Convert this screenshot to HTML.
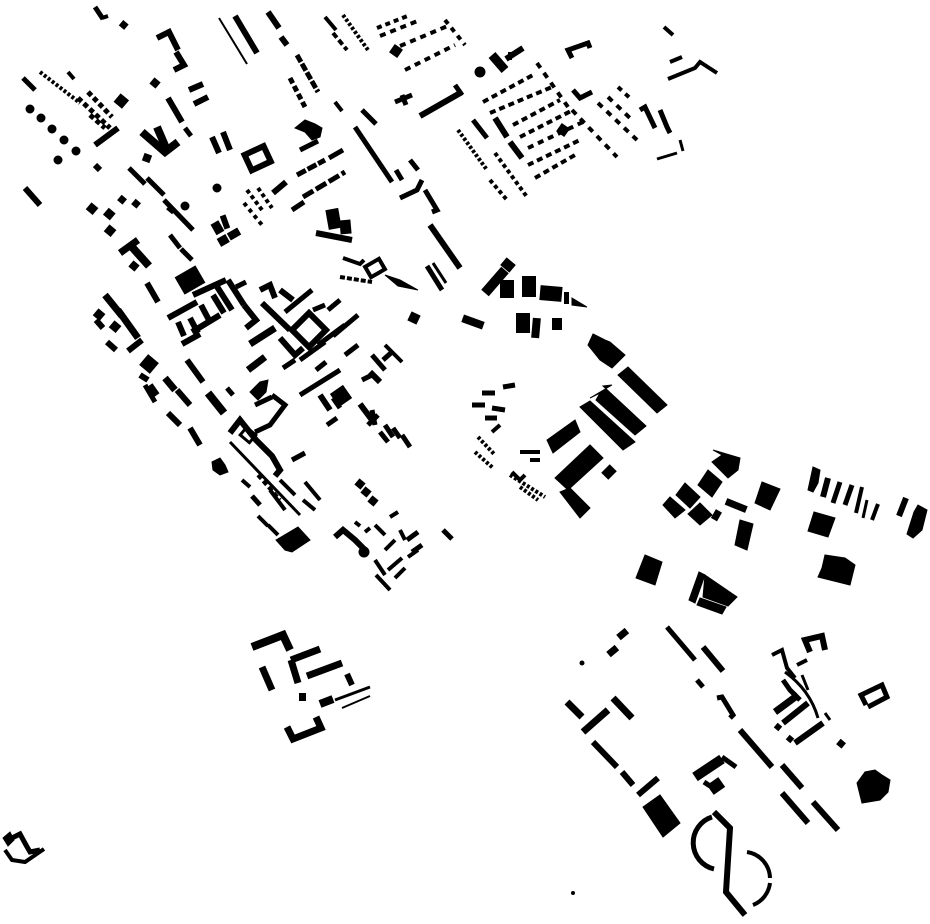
<!DOCTYPE html>
<html><head><meta charset="utf-8"><style>html,body{margin:0;padding:0;background:#fff}svg{display:block}</style></head>
<body>
<svg width="930" height="924" viewBox="0 0 930 924" xmlns="http://www.w3.org/2000/svg">
<g stroke="#000" fill="#000" stroke-linecap="butt">
<!-- top-left -->
<line x1="95" y1="7" x2="103" y2="19" stroke-width="5"/><line x1="102" y1="18" x2="108" y2="16" stroke-width="4"/>
<rect x="120" y="21" width="7" height="7" transform="rotate(40 123 25)" stroke="none"/>
<polyline points="157,38 169,32 178,50" fill="none" stroke-width="6"/>
<polyline points="176,52 184,65 174,70" fill="none" stroke-width="6"/>
<line x1="219" y1="18" x2="247" y2="64" stroke-width="2"/>
<line x1="235" y1="16" x2="257" y2="53" stroke-width="6"/>
<line x1="268" y1="12" x2="279" y2="28" stroke-width="6"/>
<line x1="281" y1="37" x2="287" y2="45" stroke-width="6"/>
<line x1="325" y1="17" x2="336" y2="30" stroke-width="4"/>
<line x1="333" y1="33" x2="347" y2="50" stroke-width="4" stroke-dasharray="6,3"/>
<line x1="343" y1="15" x2="368" y2="50" stroke-width="4" stroke-dasharray="3,2"/>
<line x1="377" y1="28" x2="410" y2="15" stroke-width="4" stroke-dasharray="5,4"/>
<line x1="380" y1="36" x2="420" y2="20" stroke-width="4" stroke-dasharray="6,5"/>
<line x1="400" y1="46" x2="450" y2="25" stroke-width="4" stroke-dasharray="6,5"/>
<line x1="405" y1="70" x2="455" y2="45" stroke-width="4" stroke-dasharray="6,5"/>
<line x1="445" y1="20" x2="465" y2="45" stroke-width="4" stroke-dasharray="5,5"/>
<rect x="391" y="46" width="10" height="10" transform="rotate(35 396 51)" stroke="none"/>
<!-- left dotted rows -->
<line x1="23" y1="78" x2="35" y2="90" stroke-width="5"/>
<line x1="40" y1="72" x2="80" y2="103" stroke-width="4" stroke-dasharray="3,2"/>
<line x1="68" y1="72" x2="74" y2="79" stroke-width="4"/>
<circle cx="30" cy="109" r="4"/><circle cx="41" cy="118" r="4"/><circle cx="52" cy="129" r="4"/><circle cx="64" cy="140" r="4"/><circle cx="76" cy="151" r="4"/>
<line x1="78" y1="98" x2="110" y2="128" stroke-width="5" stroke-dasharray="5,3"/>
<line x1="88" y1="92" x2="112" y2="117" stroke-width="5" stroke-dasharray="5,3"/>
<line x1="90" y1="115" x2="105" y2="128" stroke-width="5" stroke-dasharray="5,3"/>
<line x1="95" y1="145" x2="118" y2="128" stroke-width="6"/>
<rect x="116" y="96" width="11" height="11" transform="rotate(40 122 101)" stroke="none"/>
<circle cx="58" cy="160" r="4"/>
<line x1="25" y1="188" x2="40" y2="205" stroke-width="6"/>
<line x1="95" y1="165" x2="100" y2="170" stroke-width="6"/>
<rect x="151" y="79" width="8" height="8" transform="rotate(40 155 83)" stroke="none"/>
<line x1="168" y1="98" x2="182" y2="122" stroke-width="6"/>
<line x1="189" y1="90" x2="203" y2="84" stroke-width="6"/>
<line x1="194" y1="104" x2="208" y2="97" stroke-width="6"/>
<line x1="185" y1="128" x2="191" y2="136" stroke-width="5"/>
<polyline points="142,132 165,152 178,142" fill="none" stroke-width="8"/>
<line x1="157" y1="127" x2="166" y2="148" stroke-width="8"/>
<line x1="212" y1="137" x2="219" y2="153" stroke-width="6"/>
<line x1="223" y1="132" x2="230" y2="150" stroke-width="6"/>
<rect x="247" y="150" width="21" height="17" transform="rotate(-25 257 158)" fill="none" stroke-width="6"/>
<rect x="143" y="154" width="8" height="8" stroke="none" transform="rotate(20 147 158)"/>
<line x1="129" y1="168" x2="145" y2="184" stroke-width="5"/>
<line x1="147" y1="178" x2="164" y2="195" stroke-width="5"/>
<line x1="164" y1="200" x2="193" y2="230" stroke-width="5"/>
<rect x="88" y="204" width="9" height="9" transform="rotate(40 92 208)" stroke="none"/>
<rect x="105" y="210" width="9" height="9" transform="rotate(40 110 214)" stroke="none"/>
<rect x="119" y="196" width="7" height="7" transform="rotate(40 122 199)" stroke="none"/>
<rect x="133" y="200" width="7" height="7" transform="rotate(40 136 203)" stroke="none"/>
<rect x="106" y="226" width="9" height="9" transform="rotate(40 110 230)" stroke="none"/>
<line x1="120" y1="253" x2="138" y2="240" stroke-width="7"/>
<line x1="132" y1="247" x2="149" y2="266" stroke-width="8"/>
<rect x="130" y="262" width="8" height="8" transform="rotate(40 134 266)" stroke="none"/>
<line x1="170" y1="235" x2="180" y2="248" stroke-width="5"/>
<line x1="181" y1="249" x2="192" y2="260" stroke-width="5"/>
<line x1="168" y1="207" x2="174" y2="212" stroke-width="6"/>
<circle cx="185" cy="206" r="4"/><circle cx="217" cy="188" r="4"/>
<rect x="213" y="222" width="9" height="12" transform="rotate(-30 217 228)" stroke="none"/>
<rect x="222" y="215" width="6" height="14" transform="rotate(-20 225 222)" stroke="none"/>
<rect x="228" y="230" width="12" height="8" transform="rotate(-30 234 234)" stroke="none"/>
<rect x="218" y="236" width="10" height="9" transform="rotate(-30 223 240)" stroke="none"/>
<line x1="247" y1="190" x2="262" y2="210" stroke-width="4" stroke-dasharray="4,3"/>
<line x1="258" y1="188" x2="272" y2="208" stroke-width="4" stroke-dasharray="4,3"/>
<line x1="244" y1="203" x2="262" y2="225" stroke-width="4" stroke-dasharray="4,4"/>
<line x1="273" y1="193" x2="286" y2="182" stroke-width="6"/>
<line x1="292" y1="210" x2="304" y2="202" stroke-width="5"/>
<line x1="297" y1="175" x2="325" y2="160" stroke-width="5" stroke-dasharray="10,2"/>
<line x1="303" y1="197" x2="345" y2="172" stroke-width="5" stroke-dasharray="12,3"/>
<line x1="329" y1="158" x2="343" y2="150" stroke-width="5"/>
<line x1="300" y1="150" x2="318" y2="141" stroke-width="5"/>
<line x1="297" y1="55" x2="318" y2="92" stroke-width="5" stroke-dasharray="8,2"/>
<line x1="290" y1="78" x2="305" y2="107" stroke-width="5" stroke-dasharray="6,3"/>
<polygon points="295,128 305,120 315,124 322,128 320,137 312,140 305,132"/>
<line x1="335" y1="102" x2="342" y2="111" stroke-width="4"/>
<line x1="355" y1="127" x2="392" y2="182" stroke-width="5"/>
<line x1="362" y1="110" x2="376" y2="124" stroke-width="5"/>
<line x1="395" y1="102" x2="412" y2="95" stroke-width="5"/>
<line x1="402" y1="95" x2="406" y2="105" stroke-width="5"/>
<line x1="420" y1="116" x2="462" y2="92" stroke-width="6"/>
<line x1="455" y1="85" x2="462" y2="95" stroke-width="5"/>
<line x1="410" y1="160" x2="418" y2="170" stroke-width="5"/>
<line x1="396" y1="170" x2="402" y2="180" stroke-width="5"/>
<polyline points="400,198 417,190 422,180" fill="none" stroke-width="5"/>
<polyline points="425,190 437,210 432,212" fill="none" stroke-width="5"/>
<!-- center top cluster -->
<rect x="327" y="209" width="13" height="20" transform="rotate(-10 333 219)" stroke="none"/>
<rect x="340" y="220" width="11" height="14" transform="rotate(-5 345 227)" stroke="none"/>
<line x1="316" y1="233" x2="352" y2="240" stroke-width="6"/>
<line x1="430" y1="225" x2="460" y2="268" stroke-width="6"/>
<polyline points="343,258 360,264 364,260" fill="none" stroke-width="4"/>
<rect x="367" y="262" width="16" height="12" transform="rotate(-30 375 268)" fill="none" stroke-width="4"/>
<line x1="340" y1="277" x2="372" y2="282" stroke-width="4" stroke-dasharray="5,2"/>
<polygon points="385,275 400,280 418,290 398,286"/>
<line x1="427" y1="266" x2="442" y2="290" stroke-width="5"/>
<line x1="433" y1="263" x2="446" y2="283" stroke-width="3"/>
<!-- left-middle dense cluster -->
<rect x="178" y="270" width="24" height="20" transform="rotate(-30 190 280)" stroke="none"/>
<line x1="147" y1="283" x2="158" y2="302" stroke-width="6"/>
<line x1="105" y1="295" x2="122" y2="316" stroke-width="7"/>
<rect x="95" y="310" width="9" height="9" transform="rotate(40 99 314)" stroke="none"/>
<rect x="111" y="322" width="9" height="9" transform="rotate(40 115 326)" stroke="none"/>
<line x1="118" y1="310" x2="138" y2="338" stroke-width="7"/>
<line x1="128" y1="351" x2="142" y2="340" stroke-width="6"/>
<line x1="96" y1="320" x2="103" y2="328" stroke-width="6"/>
<line x1="107" y1="342" x2="116" y2="350" stroke-width="6"/>
<line x1="168" y1="318" x2="197" y2="302" stroke-width="6"/>
<line x1="178" y1="322" x2="184" y2="336" stroke-width="6"/>
<line x1="190" y1="318" x2="198" y2="333" stroke-width="6"/>
<line x1="201" y1="305" x2="210" y2="322" stroke-width="6"/>
<line x1="213" y1="295" x2="224" y2="313" stroke-width="6"/>
<line x1="192" y1="332" x2="220" y2="315" stroke-width="6"/>
<line x1="182" y1="344" x2="200" y2="334" stroke-width="6"/>
<line x1="193" y1="295" x2="226" y2="280" stroke-width="6"/>
<line x1="216" y1="285" x2="232" y2="310" stroke-width="6"/>
<line x1="228" y1="280" x2="244" y2="305" stroke-width="6"/>
<line x1="236" y1="287" x2="246" y2="282" stroke-width="5"/>
<polyline points="244,305 256,320 246,328" fill="none" stroke-width="6"/>
<polyline points="260,290 270,285 275,298" fill="none" stroke-width="6"/>
<line x1="262" y1="303" x2="290" y2="330" stroke-width="6"/>
<line x1="280" y1="290" x2="293" y2="300" stroke-width="6"/>
<line x1="250" y1="344" x2="275" y2="328" stroke-width="7"/>
<line x1="248" y1="370" x2="265" y2="357" stroke-width="7"/>
<polyline points="280,338 295,355 303,348" fill="none" stroke-width="6"/>
<rect x="297" y="318" width="24" height="24" transform="rotate(-45 309 330)" fill="none" stroke-width="6"/>
<line x1="285" y1="312" x2="312" y2="290" stroke-width="5"/>
<line x1="313" y1="310" x2="325" y2="305" stroke-width="5"/>
<line x1="328" y1="310" x2="340" y2="300" stroke-width="5"/>
<line x1="333" y1="336" x2="358" y2="315" stroke-width="5"/>
<line x1="318" y1="345" x2="345" y2="325" stroke-width="5"/>
<line x1="300" y1="360" x2="325" y2="342" stroke-width="5"/>
<line x1="283" y1="368" x2="295" y2="360" stroke-width="5"/>
<rect x="409" y="313" width="10" height="10" transform="rotate(25 414 318)" stroke="none"/>
<rect x="142" y="357" width="14" height="14" transform="rotate(40 149 364)" stroke="none"/>
<line x1="140" y1="375" x2="148" y2="380" stroke-width="6"/>
<line x1="150" y1="385" x2="157" y2="395" stroke-width="6"/>
<line x1="165" y1="378" x2="175" y2="390" stroke-width="7"/>
<line x1="177" y1="390" x2="190" y2="405" stroke-width="6"/>
<line x1="187" y1="360" x2="203" y2="382" stroke-width="6"/>
<line x1="168" y1="413" x2="180" y2="425" stroke-width="6"/>
<line x1="190" y1="428" x2="200" y2="445" stroke-width="6"/>
<line x1="145" y1="385" x2="155" y2="402" stroke-width="5"/>
<line x1="208" y1="393" x2="224" y2="413" stroke-width="8"/>
<line x1="227" y1="388" x2="233" y2="395" stroke-width="5"/>
<polygon points="250,392 260,382 268,380 266,392 258,400"/>
<line x1="255" y1="405" x2="272" y2="397" stroke-width="5"/>
<polyline points="272,395 285,405 270,425 255,432" fill="none" stroke-width="5"/>
<polyline points="230,433 240,420 256,440 272,456 280,470 275,476" fill="none" stroke-width="6"/>
<rect x="242" y="430" width="12" height="10" transform="rotate(40 248 435)" fill="none" stroke-width="3"/>
<line x1="230" y1="442" x2="300" y2="515" stroke-width="3"/>
<line x1="292" y1="460" x2="305" y2="453" stroke-width="5"/>
<polygon points="212,462 220,458 225,465 228,472 220,475 213,470"/>
<line x1="242" y1="480" x2="250" y2="487" stroke-width="4"/>
<line x1="252" y1="496" x2="260" y2="505" stroke-width="5"/>
<line x1="258" y1="475" x2="280" y2="500" stroke-width="4" stroke-dasharray="5,3"/>
<line x1="270" y1="490" x2="285" y2="510" stroke-width="4"/>
<line x1="280" y1="480" x2="295" y2="495" stroke-width="4"/>
<line x1="305" y1="482" x2="320" y2="500" stroke-width="4"/>
<line x1="303" y1="500" x2="315" y2="510" stroke-width="4"/>
<line x1="258" y1="516" x2="268" y2="526" stroke-width="4"/>
<line x1="268" y1="525" x2="278" y2="535" stroke-width="4"/>
<polygon points="276,540 298,527 310,540 292,552 285,550"/>
<line x1="300" y1="395" x2="340" y2="370" stroke-width="5"/>
<rect x="333" y="388" width="16" height="16" transform="rotate(-35 341 396)" stroke="none"/>
<line x1="320" y1="395" x2="330" y2="410" stroke-width="6"/>
<line x1="327" y1="425" x2="337" y2="418" stroke-width="5"/>
<line x1="333" y1="398" x2="340" y2="408" stroke-width="5"/>
<line x1="316" y1="370" x2="326" y2="362" stroke-width="5"/>
<line x1="372" y1="355" x2="385" y2="370" stroke-width="5"/>
<line x1="383" y1="360" x2="392" y2="352" stroke-width="5"/>
<line x1="385" y1="345" x2="402" y2="362" stroke-width="4"/>
<line x1="370" y1="372" x2="380" y2="382" stroke-width="6"/>
<line x1="362" y1="380" x2="372" y2="375" stroke-width="5"/>
<line x1="360" y1="404" x2="372" y2="420" stroke-width="6"/>
<line x1="368" y1="425" x2="378" y2="415" stroke-width="5"/>
<line x1="372" y1="410" x2="375" y2="425" stroke-width="5"/>
<line x1="385" y1="425" x2="393" y2="437" stroke-width="5"/>
<line x1="393" y1="428" x2="400" y2="438" stroke-width="5"/>
<line x1="402" y1="435" x2="410" y2="447" stroke-width="5"/>
<line x1="380" y1="432" x2="388" y2="442" stroke-width="5"/>
<line x1="345" y1="355" x2="358" y2="345" stroke-width="5"/>
<!-- zigzag squares + lower cluster -->
<rect x="356" y="480" width="8" height="8" transform="rotate(40 360 484)" stroke="none"/>
<rect x="362" y="488" width="8" height="8" transform="rotate(40 366 492)" stroke="none"/>
<rect x="369" y="497" width="8" height="8" transform="rotate(40 373 501)" stroke="none"/>
<polyline points="335,537 343,530 355,540 365,550" fill="none" stroke-width="6"/>
<circle cx="364" cy="552" r="5"/>
<line x1="355" y1="522" x2="360" y2="526" stroke-width="4"/>
<line x1="365" y1="532" x2="370" y2="528" stroke-width="4"/>
<line x1="375" y1="525" x2="385" y2="535" stroke-width="4"/>
<line x1="390" y1="517" x2="398" y2="512" stroke-width="4"/>
<line x1="400" y1="530" x2="405" y2="540" stroke-width="4"/>
<line x1="407" y1="540" x2="418" y2="532" stroke-width="5"/>
<line x1="412" y1="552" x2="422" y2="545" stroke-width="5"/>
<line x1="385" y1="550" x2="395" y2="540" stroke-width="4"/>
<line x1="375" y1="560" x2="385" y2="575" stroke-width="4"/>
<line x1="376" y1="575" x2="390" y2="590" stroke-width="4"/>
<line x1="388" y1="570" x2="402" y2="558" stroke-width="4"/>
<line x1="395" y1="578" x2="405" y2="568" stroke-width="4"/>
<line x1="443" y1="530" x2="452" y2="539" stroke-width="5"/>
<line x1="408" y1="557" x2="418" y2="550" stroke-width="4"/>
<!-- top right grid -->
<line x1="492" y1="55" x2="505" y2="70" stroke-width="9"/>
<line x1="506" y1="59" x2="523" y2="48" stroke-width="6"/>
<line x1="510" y1="60" x2="510" y2="52" stroke-width="4"/>
<circle cx="480" cy="72" r="5"/>
<polyline points="572,58 568,50 588,43 590,48" fill="none" stroke-width="5"/>
<line x1="483" y1="102" x2="533" y2="75" stroke-width="4" stroke-dasharray="6,4"/>
<line x1="490" y1="113" x2="552" y2="87" stroke-width="4" stroke-dasharray="6,4"/>
<line x1="513" y1="125" x2="560" y2="100" stroke-width="4" stroke-dasharray="6,4"/>
<line x1="520" y1="137" x2="573" y2="110" stroke-width="4" stroke-dasharray="6,4"/>
<line x1="528" y1="148" x2="583" y2="122" stroke-width="4" stroke-dasharray="6,5"/>
<line x1="528" y1="165" x2="580" y2="140" stroke-width="4" stroke-dasharray="6,4"/>
<line x1="535" y1="178" x2="575" y2="155" stroke-width="4" stroke-dasharray="6,4"/>
<line x1="537" y1="63" x2="568" y2="107" stroke-width="4" stroke-dasharray="6,6"/>
<line x1="572" y1="110" x2="617" y2="157" stroke-width="4" stroke-dasharray="6,6"/>
<line x1="598" y1="103" x2="637" y2="140" stroke-width="4" stroke-dasharray="6,6"/>
<line x1="608" y1="97" x2="632" y2="120" stroke-width="4" stroke-dasharray="6,6"/>
<line x1="618" y1="87" x2="632" y2="100" stroke-width="4" stroke-dasharray="5,5"/>
<rect x="558" y="125" width="10" height="10" transform="rotate(35 563 130)" stroke="none"/>
<polyline points="573,90 580,98 592,92" fill="none" stroke-width="5"/>
<line x1="473" y1="120" x2="487" y2="138" stroke-width="5"/>
<line x1="495" y1="118" x2="507" y2="137" stroke-width="6"/>
<line x1="510" y1="142" x2="522" y2="158" stroke-width="6"/>
<line x1="458" y1="130" x2="487" y2="170" stroke-width="4" stroke-dasharray="3,2"/>
<line x1="495" y1="153" x2="527" y2="197" stroke-width="4" stroke-dasharray="4,3"/>
<line x1="490" y1="180" x2="507" y2="200" stroke-width="4" stroke-dasharray="4,3"/>
<polyline points="640,110 645,107 655,128" fill="none" stroke-width="5"/>
<polyline points="660,110 667,127 670,133" fill="none" stroke-width="5"/>
<line x1="657" y1="159" x2="677" y2="153" stroke-width="3"/>
<line x1="680" y1="140" x2="683" y2="151" stroke-width="3"/>
<line x1="664" y1="27" x2="673" y2="35" stroke-width="4"/>
<line x1="670" y1="62" x2="682" y2="57" stroke-width="4"/>
<polyline points="668,79 695,68 700,62 717,73" fill="none" stroke-width="4"/>
<!-- mid cluster near 480-590, 260-340 -->
<line x1="485" y1="293" x2="505" y2="270" stroke-width="10"/>
<rect x="502" y="260" width="12" height="10" transform="rotate(40 508 265)" stroke="none"/>
<rect x="500" y="280" width="14" height="18" stroke="none"/>
<rect x="522" y="276" width="14" height="21" stroke="none"/>
<rect x="540" y="286" width="22" height="15" transform="rotate(5 551 293)" stroke="none"/>
<rect x="564" y="292" width="5" height="12" stroke="none"/>
<polygon points="572,298 587,307 572,305"/>
<rect x="462" y="318" width="22" height="8" transform="rotate(20 473 322)" stroke="none"/>
<rect x="516" y="313" width="14" height="20" stroke="none"/>
<rect x="532" y="318" width="8" height="20" transform="rotate(5 536 328)" stroke="none"/>
<rect x="552" y="318" width="10" height="12" stroke="none"/>
<polygon points="593,334 605,340 610,342 625,355 612,368 600,360 588,345"/>
<polygon points="628,367 667,405 657,413 618,375"/>
<polygon points="603,386 646,426 635,435 596,400 600,393 590,398 612,385"/>
<polygon points="590,401 635,442 623,450 580,407"/>
<polygon points="547,440 575,420 580,432 553,453"/>
<polygon points="555,478 590,445 603,458 568,490"/>
<polygon points="560,492 570,488 590,508 580,518"/>
<rect x="603" y="467" width="12" height="10" transform="rotate(-45 609 472)" stroke="none"/>
<!-- small dot cluster -->
<line x1="503" y1="387" x2="515" y2="385" stroke-width="5"/>
<line x1="482" y1="393" x2="495" y2="393" stroke-width="5"/>
<line x1="472" y1="405" x2="485" y2="405" stroke-width="5"/>
<line x1="492" y1="408" x2="505" y2="410" stroke-width="5"/>
<line x1="485" y1="418" x2="497" y2="418" stroke-width="5"/>
<line x1="492" y1="432" x2="500" y2="425" stroke-width="4"/>
<line x1="478" y1="437" x2="495" y2="455" stroke-width="4" stroke-dasharray="3,2"/>
<line x1="475" y1="452" x2="493" y2="468" stroke-width="4" stroke-dasharray="3,2"/>
<line x1="510" y1="475" x2="545" y2="497" stroke-width="4" stroke-dasharray="3,2"/>
<line x1="520" y1="487" x2="538" y2="500" stroke-width="4" stroke-dasharray="3,2"/>
<polyline points="512,472 520,480 525,475" fill="none" stroke-width="4"/>
<line x1="520" y1="452" x2="540" y2="452" stroke-width="4"/>
<line x1="530" y1="460" x2="540" y2="460" stroke-width="4"/>
<!-- right-middle clusters -->
<polygon points="713,450 740,458 738,470 728,478 712,462 722,455"/>
<polygon points="708,470 722,482 712,497 698,485"/>
<polygon points="685,483 700,497 690,508 676,495"/>
<polygon points="670,497 685,510 675,518 663,505"/>
<polygon points="700,503 712,515 700,525 688,514"/>
<rect x="725" y="502" width="22" height="7" transform="rotate(22 736 506)" stroke="none"/>
<rect x="713" y="510" width="7" height="10" transform="rotate(30 716 515)" stroke="none"/>
<polygon points="762,482 780,489 770,510 755,503"/>
<polygon points="740,520 753,524 747,550 735,545"/>
<polygon points="813,467 820,470 818,483 813,492 808,490"/>
<line x1="828" y1="478" x2="823" y2="497" stroke-width="6"/>
<line x1="840" y1="482" x2="833" y2="503" stroke-width="5"/>
<line x1="852" y1="485" x2="845" y2="505" stroke-width="5"/>
<line x1="862" y1="487" x2="856" y2="513" stroke-width="4"/>
<line x1="867" y1="500" x2="863" y2="518" stroke-width="3"/>
<line x1="878" y1="504" x2="872" y2="520" stroke-width="4"/>
<line x1="906" y1="498" x2="899" y2="516" stroke-width="6"/>
<polygon points="918,505 927,510 922,530 913,538 907,534 914,512"/>
<polygon points="814,512 835,518 828,537 808,531"/>
<polygon points="825,555 845,558 855,565 850,585 818,577 822,568"/>
<polygon points="645,555 662,562 655,585 636,578"/>
<polygon points="699,572 705,575 695,603 689,600"/>
<polygon points="705,575 737,597 728,606 703,597"/>
<polygon points="700,598 726,607 722,614 697,605"/>
<!-- bottom-left cluster -->
<polyline points="252,647 283,635 290,650" fill="none" stroke-width="8"/>
<line x1="262" y1="667" x2="272" y2="690" stroke-width="7"/>
<line x1="291" y1="660" x2="298" y2="683" stroke-width="7"/>
<line x1="291" y1="660" x2="320" y2="649" stroke-width="7"/>
<line x1="307" y1="676" x2="342" y2="663" stroke-width="7"/>
<line x1="347" y1="674" x2="352" y2="685" stroke-width="6"/>
<line x1="335" y1="700" x2="370" y2="687" stroke-width="3"/>
<line x1="342" y1="708" x2="370" y2="696" stroke-width="2"/>
<line x1="320" y1="704" x2="333" y2="699" stroke-width="8"/>
<rect x="299" y="693" width="7" height="8" stroke="none"/>
<polyline points="287,727 293,739 321,728 316,717" fill="none" stroke-width="7"/>
<polyline points="8,840 20,834 26,845 30,852 40,850" fill="none" stroke-width="5"/>
<polyline points="5,850 12,860 25,862 44,849" fill="none" stroke-width="4"/>
<polygon points="3,838 10,832 14,840 8,846"/>
<!-- bottom right -->
<rect x="617" y="631" width="11" height="7" transform="rotate(-40 622 634)" stroke="none"/>
<rect x="607" y="648" width="11" height="7" transform="rotate(-40 612 651)" stroke="none"/>
<circle cx="582" cy="663" r="2"/>
<line x1="667" y1="627" x2="695" y2="660" stroke-width="5"/>
<line x1="703" y1="647" x2="723" y2="671" stroke-width="6"/>
<line x1="697" y1="680" x2="703" y2="687" stroke-width="5"/>
<polyline points="717,698 722,697 733,715 730,718" fill="none" stroke-width="5"/>
<line x1="740" y1="730" x2="772" y2="767" stroke-width="6"/>
<line x1="782" y1="765" x2="802" y2="788" stroke-width="6"/>
<line x1="782" y1="793" x2="808" y2="823" stroke-width="6"/>
<line x1="813" y1="802" x2="838" y2="830" stroke-width="6"/>
<line x1="567" y1="702" x2="582" y2="717" stroke-width="7"/>
<line x1="583" y1="732" x2="608" y2="710" stroke-width="7"/>
<line x1="613" y1="698" x2="632" y2="718" stroke-width="7"/>
<line x1="593" y1="742" x2="617" y2="767" stroke-width="6"/>
<line x1="622" y1="772" x2="633" y2="785" stroke-width="6"/>
<line x1="638" y1="795" x2="658" y2="778" stroke-width="6"/>
<polygon points="643,807 660,795 680,823 663,837"/>
<line x1="695" y1="777" x2="722" y2="759" stroke-width="10"/>
<line x1="722" y1="757" x2="736" y2="767" stroke-width="5"/>
<rect x="709" y="780" width="14" height="12" transform="rotate(-35 716 786)" stroke="none"/>
<line x1="704" y1="782" x2="710" y2="786" stroke-width="5"/>
<path d="M712,817 A27,27 0 0 0 714,869" fill="none" stroke-width="5"/>
<polyline points="714,812 730,828 726,892 745,915" fill="none" stroke-width="6"/>
<path d="M747,852 A27,27 0 0 1 770,878" fill="none" stroke-width="4"/>
<path d="M770,883 A27,27 0 0 1 753,905" fill="none" stroke-width="4"/>
<polyline points="810,652 805,640 822,636 825,650" fill="none" stroke-width="6"/>
<polyline points="772,655 782,650 787,668 795,678" fill="none" stroke-width="4"/>
<polyline points="783,680 790,690 800,700" fill="none" stroke-width="5"/>
<path d="M785,672 Q810,690 818,718" fill="none" stroke-width="3"/>
<line x1="797" y1="665" x2="807" y2="660" stroke-width="4"/>
<line x1="802" y1="675" x2="808" y2="690" stroke-width="3"/>
<line x1="775" y1="712" x2="798" y2="695" stroke-width="7"/>
<line x1="783" y1="723" x2="808" y2="703" stroke-width="6"/>
<line x1="795" y1="743" x2="823" y2="723" stroke-width="6"/>
<rect x="775" y="724" width="6" height="6" transform="rotate(40 778 727)" stroke="none"/>
<rect x="787" y="736" width="6" height="6" transform="rotate(40 790 739)" stroke="none"/>
<line x1="825" y1="713" x2="830" y2="720" stroke-width="3"/>
<polyline points="866,705 861,695 882,685 887,697 868,707" fill="none" stroke-width="5"/>
<rect x="838" y="740" width="7" height="7" transform="rotate(40 841 743)" stroke="none"/>
<polygon points="857,783 865,772 875,770 882,775 890,780 888,792 880,800 862,803"/>
<circle cx="573" cy="893" r="1.5"/>
</g>
</svg>
</body></html>
